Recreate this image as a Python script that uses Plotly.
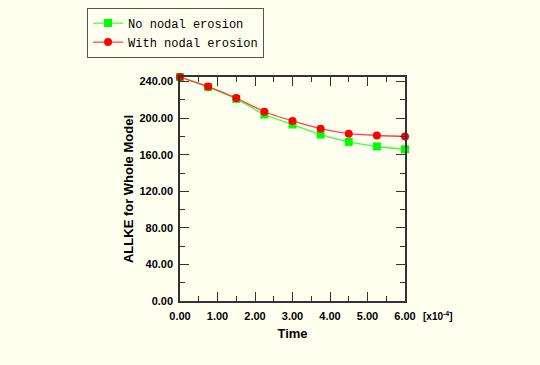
import plotly.graph_objects as go

time = [0.0, 0.75, 1.5, 2.25, 3.0, 3.75, 4.5, 5.25, 6.0]
no_erosion = [245, 234, 221, 204, 193, 182, 174, 169, 166]
with_erosion = [245, 234.5, 222, 207, 197, 188.5, 183, 181, 180]
series_names = ["No nodal erosion", "With nodal erosion"]

BG = "#FFFFF0"
fig = go.Figure()
fig.add_trace(go.Scatter(
    x=time, y=no_erosion, name=series_names[0], mode="lines+markers",
    line=dict(color="#40FF40", width=1.3, shape="spline", smoothing=0.6),
    marker=dict(symbol="square", size=8, color="#00FF00"), cliponaxis=False))
fig.add_trace(go.Scatter(
    x=time, y=with_erosion, name=series_names[1], mode="lines+markers",
    line=dict(color="#FF4040", width=1.3, shape="spline", smoothing=0.6),
    marker=dict(symbol="circle", size=8, color="#FF0000"), cliponaxis=False))

tickfont = dict(family="Liberation Sans", size=11, color="black", weight="bold")
titlefont = dict(family="Liberation Sans", size=13, color="black", weight="bold")
axis_common = dict(ticks="inside", ticklen=9, tickwidth=1, tickcolor="#333",
                   showline=True, linecolor="#333", linewidth=1.5, mirror="allticks",
                   showgrid=False, zeroline=False, tickfont=tickfont,
                   minor=dict(ticks="inside", ticklen=5, tickcolor="#333", showgrid=False))

fig.update_xaxes(range=[0, 6], dtick=1, tickformat=".2f", ticklabelstandoff=4,
                 title=dict(text="Time", font=titlefont, standoff=8), **axis_common)
fig.update_xaxes(minor_dtick=0.5)
fig.update_yaxes(range=[0, 245], dtick=40, tick0=0, tickformat=".2f", ticklabelstandoff=3,
                 title=dict(text="ALLKE for Whole Model", font=titlefont, standoff=3), **axis_common)
fig.update_yaxes(minor_dtick=20)

fig.add_annotation(text="[x10<sup>-4</sup>]", xref="paper", yref="paper", x=1.071, y=0,
                   xanchor="left", yanchor="top", yshift=-7, showarrow=False,
                   font=dict(family="Liberation Sans", size=10, color="black", weight="bold"))

fig.update_layout(
    width=540, height=365, paper_bgcolor=BG, plot_bgcolor=BG,
    margin=dict(l=180, r=135, t=77, b=64, autoexpand=False),
    legend=dict(x=-0.413, y=1.31, xanchor="left", yanchor="top",
                bgcolor=BG, bordercolor="#555", borderwidth=1,
                font=dict(family="Liberation Mono", size=12, color="black"),
                tracegroupgap=0, itemwidth=30),
    showlegend=True,
)
fig.write_html("out.html", config={"displayModeBar": False},
               post_script="document.body.style.margin='0';document.body.style.background='%s';" % BG)
